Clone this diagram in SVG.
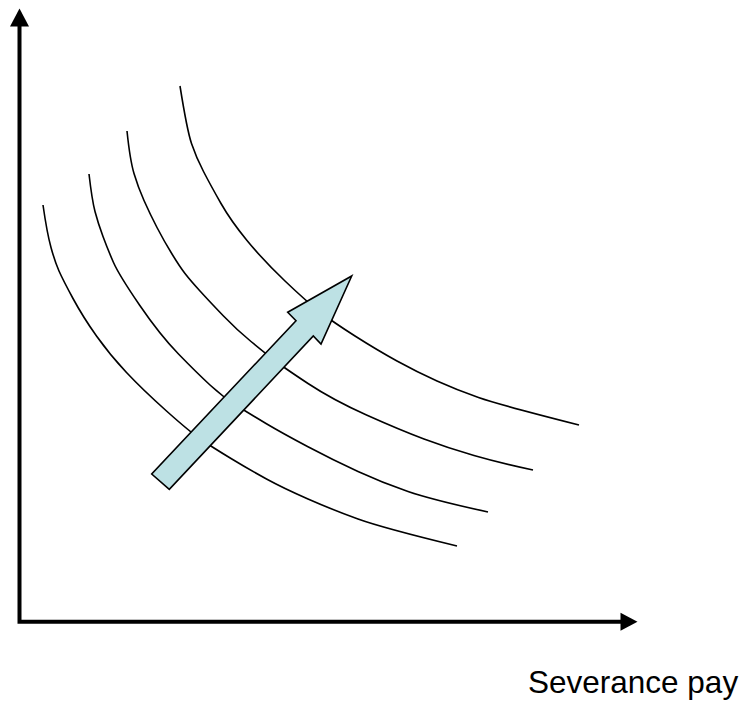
<svg xmlns="http://www.w3.org/2000/svg" width="746" height="702" viewBox="0 0 746 702">
<style>
.curve{fill:none;stroke:#000;stroke-width:1.6}
.axis{fill:none;stroke:#000;stroke-width:4}
.head{fill:#000}
.label{font-family:"Liberation Sans",Arial,sans-serif;font-size:31.5px;fill:#000}
</style>
<rect width="746" height="702" fill="#fff"/>
<g id="curves">
<path id="curve1" class="curve" d="M43,205 Q47,233 51,247.5 Q55,262 59,271 Q63,280 73,298.5 Q83,317 96.5,336 Q110,355 126.5,372.5 Q143,390 166.5,411 Q190,432 201,439.5 Q212,447 231,458.5 Q250,470 266.5,479 Q283,488 308,499 Q333,510 358,519 Q383,528 457,546"/>
<path id="curve2" class="curve" d="M89,174 Q92,200 95,211.5 Q98,223 103,236.5 Q108,250 113.5,262.5 Q119,275 139.5,305 Q160,335 178.5,354 Q197,373 210,385 Q223,397 236.5,405.5 Q250,414 266,423.5 Q282,433 307.5,446.5 Q333,460 358,471.5 Q383,483 408,491.5 Q433,500 488,512"/>
<path id="curve3" class="curve" d="M127,131 Q130,160 134,173.5 Q138,187 144,200.5 Q150,214 157,227.5 Q164,241 172,254 Q180,267 185,273.5 Q190,280 200,291 Q210,302 223.5,316 Q237,330 251,341.5 Q265,353 274,360 Q283,367 308,383.5 Q333,400 366.5,415 Q400,430 424,439 Q448,448 474,455.5 Q500,463 533,470"/>
<path id="curve4" class="curve" d="M180,86 Q187,130 191.5,143.5 Q196,157 203.5,171.5 Q211,186 221,203.5 Q231,221 247,240.5 Q263,260 285,281 Q307,302 320,312 Q333,322 355,336 Q377,350 397,361 Q417,372 437,381 Q457,390 478.5,397.5 Q500,405 579,425"/>
</g>
<g id="shift-arrow">
<polygon points="351.7,276 321,344 313.3,336 169.3,489.3 151.7,474 296,320.7 287.7,312.3" fill="#BDE1E4" stroke="#000" stroke-width="1.6" stroke-linejoin="miter"/>
</g>
<g id="axes">
<polyline class="axis" points="19.5,26 19.5,621.7 621,621.7"/>
<polygon class="head" points="19.5,8.5 10,26.5 29,26.5"/>
<polygon class="head" points="637.5,621.7 620.5,612.7 620.5,630.7"/>
</g>
<g id="x-label">
<text class="label" x="528" y="693">Severance pay</text>
</g>
</svg>
